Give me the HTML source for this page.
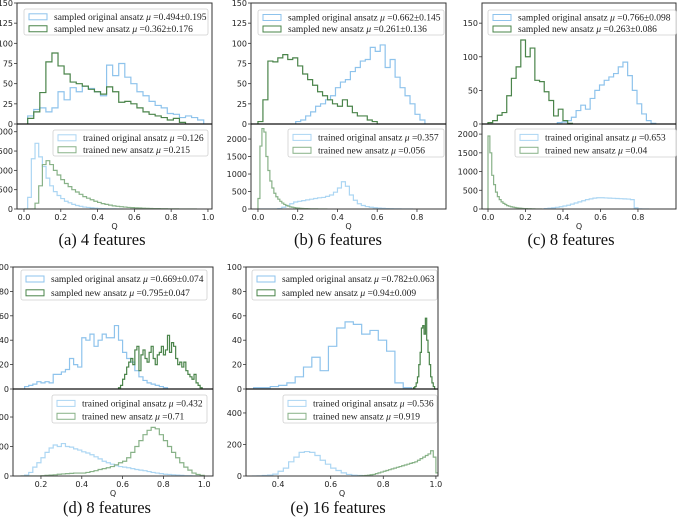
<!DOCTYPE html>
<html><head><meta charset="utf-8">
<style>
html,body{margin:0;padding:0;background:#fff;}
svg{display:block;}
</style></head>
<body>
<svg id="fig" width="677" height="520" viewBox="0 0 677 520" xmlns="http://www.w3.org/2000/svg"></svg>
<script>
// ---------- data (bin start, bin width, counts) ----------
const aTopBlueStart = 0.02, aTopBlueWidth = 0.033;
const aTopBlue = [10,18,20,15,20,40,30,45,40,47,44,40,35,73,60,75,58,50,40,35,28,23,20,13,12,8,10,8,5];
const aTopGreenStart = 0.02, aTopGreenWidth = 0.033;
const aTopGreen = [7,15,39,77,88,72,62,52,50,47,43,40,37,46,40,27,28,25,20,15,12,10,8,5,7,2];
const aBotBlueStart = 0, aBotBlueWidth = 0.02;
const aBotBlue = [0,300,1300,1700,1350,1100,800,600,450,350,270,200,160,120,90,70,50,40,30,20,15,10,8,5,3,2,0];
const aBotGreenStart = 0, aBotGreenWidth = 0.02;
const aBotGreen = [0,0,0,150,600,1150,1250,1150,1000,880,760,660,580,500,440,380,320,280,240,200,170,140,120,100,80,70,60,50,40,35,30,25,20,18,15,12,10,8,6,5,4,3,2,2,1,1,0];

const bTopBlueStart = 0.19, bTopBlueWidth = 0.025;
const bTopBlue = [3,5,10,15,22,25,30,35,45,52,55,65,70,78,80,95,90,98,70,80,58,45,35,25,12,5];
const bTopGreenStart = 0, bTopGreenWidth = 0.025;
const bTopGreen = [3,30,78,77,82,86,80,82,72,62,55,48,40,35,30,25,22,30,22,14,10,10,5,3];
const bBotBlueStart = 0, bBotBlueWidth = 0.02;
const bBotBlue = [0,0,0,0,0,10,50,100,150,200,220,240,260,280,300,320,330,360,400,480,600,780,650,400,250,150,100,70,50,35,25,18,12,8,5,3,2,1,0];
const bBotGreenStart = 0, bBotGreenWidth = 0.01;
const bBotGreen = [300,1800,2300,2200,1500,1100,800,600,450,350,280,220,170,130,100,80,60,50,40,30,25,20,15,12,10,8,6,5,4,3,2,2,1,1,0];

const cTopBlueStart = 0.37, cTopBlueWidth = 0.025;
const cTopBlue = [2,3,5,10,20,28,22,38,50,58,65,70,75,85,92,72,50,30,15,5,1];
const cTopGreenStart = 0, cTopGreenWidth = 0.025;
const cTopGreen = [2,5,13,17,42,68,85,125,100,113,65,63,48,35,12,22,5,1];
const cBotBlueStart = 0.3, cBotBlueWidth = 0.02;
const cBotBlue = [10,20,30,45,60,80,100,130,160,190,220,250,270,290,300,300,295,290,285,280,275,270,265,250,30,5,2,0];
const cBotGreenStart = 0, cBotGreenWidth = 0.01;
const cBotGreen = [1950,1500,900,650,450,330,250,190,150,120,90,75,60,50,40,32,25,20,15,12,10,8,6,5,3,2,1,1,0];

const dTopBlueStart = 0.12, dTopBlueWidth = 0.02;
const dTopBlue = [2,3,4,6,5,6,5,12,12,14,16,25,20,18,42,40,45,35,40,45,42,42,52,40,30,25,22,15,10,7,5,4,3,2,1];
const dTopGreenStart = 0.58, dTopGreenWidth = 0.01;
const dTopGreen = [1,3,8,12,18,22,25,20,32,35,15,28,32,25,22,30,35,25,20,28,30,35,28,32,44,30,38,35,25,20,22,18,22,15,12,10,8,12,5,3,1];
const dBotBlueStart = 0.1, dBotBlueWidth = 0.02;
const dBotBlue = [0,3,12,30,45,62,80,95,105,100,110,100,98,92,88,82,78,72,65,58,50,45,40,35,32,30,28,25,22,20,18,15,12,10,8,6,5,4,3,2,1,1,0,0,0];
const dBotGreenStart = 0.1, dBotGreenWidth = 0.02;
const dBotGreen = [0,0,0,0,0,1,2,3,4,6,7,8,9,10,10,10,12,15,18,22,25,28,32,38,45,50,62,80,100,120,140,155,165,160,140,120,100,80,62,45,30,20,10,5,2];

const eTopBlueStart = 0.307, eTopBlueWidth = 0.0316;
const eTopBlue = [1,1,2,3,5,10,18,26,15,35,50,55,53,45,48,40,31,5,1];
const eTopGreenStart = 0.915, eTopGreenWidth = 0.005;
const eTopGreen = [1,2,5,10,20,30,50,52,45,58,40,30,20,10,5,2,0];
const eBotBlueStart = 0.3, eBotBlueWidth = 0.02;
const eBotBlue = [0,1,3,6,12,30,50,90,120,150,155,150,130,100,75,50,35,20,10,5,3,1,0];
const eBotGreenStart = 0.7, eBotGreenWidth = 0.01;
const eBotGreen = [0,1,2,3,5,8,10,15,20,25,30,35,40,45,50,55,60,65,70,75,80,85,90,100,110,120,130,140,160,120,20];

// tick labels
const aTopTicks = [0,25,50,75,100,125,150], aBotTicks = [0,500,1000,1500,2000], aXTicks = [0,0.2,0.4,0.6,0.8,1.0];
const bTopTicks = [0,25,50,75,100,125,150], bBotTicks = [0,500,1000,1500,2000], bXTicks = [0,0.2,0.4,0.6,0.8];
const cTopTicks = [0,50,100,150], cBotTicks = [0,500,1000,1500,2000], cXTicks = [0,0.2,0.4,0.6,0.8];
const dTopTicks = [0,20,40,60,80,100], dBotTicks = [0,100,200], dXTicks = [0.2,0.4,0.6,0.8,1.0];
const eTopTicks = [0,20,40,60,80,100], eBotTicks = [0,200,400], eXTicks = [0.4,0.6,0.8,1.0];

// legend labels
const aLegTop = ["sampled original ansatz", "0.494±0.195", "sampled new ansatz", "0.362±0.176"];
const aLegBot = ["trained original ansatz", "0.126", "trained new ansatz", "0.215"];
const bLegTop = ["sampled original ansatz", "0.662±0.145", "sampled new ansatz", "0.261±0.136"];
const bLegBot = ["trained original ansatz", "0.357", "trained new ansatz", "0.056"];
const cLegTop = ["sampled original ansatz", "0.766±0.098", "sampled new ansatz", "0.263±0.086"];
const cLegBot = ["trained original ansatz", "0.653", "trained new ansatz", "0.04"];
const dLegTop = ["sampled original ansatz", "0.669±0.074", "sampled new ansatz", "0.795±0.047"];
const dLegBot = ["trained original ansatz", "0.432", "trained new ansatz", "0.71"];
const eLegTop = ["sampled original ansatz", "0.782±0.063", "sampled new ansatz", "0.94±0.009"];
const eLegBot = ["trained original ansatz", "0.536", "trained new ansatz", "0.919"];

const captions = ["(a) 4 features","(b) 6 features","(c) 8 features","(d) 8 features","(e) 16 features"];

// ---------- layout ----------
const NS = "http://www.w3.org/2000/svg";
const svg = document.getElementById('fig');
const C = {tb:"#8ec3ec", tg:"#4a844a", bb:"#acd6f3", bg:"#88b288"};

function el(tag, attrs, parent){
  const e = document.createElementNS(NS, tag);
  for (const k in attrs) e.setAttribute(k, attrs[k]);
  (parent||svg).appendChild(e);
  return e;
}
function fmtTick(v, dec){ return dec ? v.toFixed(1) : String(v); }

function histPath(vals, start, width, xs, ys){
  let d = "M" + xs(start).toFixed(2) + "," + ys(0).toFixed(2);
  for (let i=0;i<vals.length;i++){
    d += "V" + ys(vals[i]).toFixed(2) + "H" + xs(start+(i+1)*width).toFixed(2);
  }
  d += "V" + ys(0).toFixed(2);
  return d;
}

function legend(g, box, labels, colA, colB, name){
  const [x,y,w,h] = box;
  const lg = el('g', {}, g);
  
  
  el('rect', {x:x, y:y, width:w, height:h, rx:2, fill:"#fff", "fill-opacity":0.85, stroke:"#d0d0d0", "stroke-width":0.8}, lg);
  const rows = [y+h*0.3, y+h*0.76];
  for (let r=0;r<2;r++){
    const cy = rows[r];
    const p = el('rect', {x:x+5, y:cy-3, width:18, height:6, fill:"none", stroke: r===0?colA:colB, "stroke-width":1}, lg);
    
    
    const t = el('text', {x:x+30, y:cy+3, "font-family":"Liberation Serif, serif", "font-size":"9.5", fill:"#222"}, lg);
    
    
    t.appendChild(document.createTextNode(labels[r*2] + " "));
    const mu = el('tspan', {"font-style":"italic"}, t); mu.textContent = "μ";
    const rest = el('tspan', {}, t); rest.textContent = " =" + labels[r*2+1];
  }
}

function panel(cfg){
  const g = el('g', {});
  
  
  const [L,R,T,M,B] = cfg.box;
  const xs = q => L + (q - cfg.xlim[0]) / (cfg.xlim[1]-cfg.xlim[0]) * (R-L);
  const ysT = v => M - v / cfg.ytop * (M-T);
  const ysB = v => B - v / cfg.ybot * (B-M);
  const clipId = cfg.name + '-clip';
  const cp = el('clipPath', {id:clipId}, g);
  el('rect', {x:L, y:T, width:R-L, height:B-T}, cp);
  const hg = el('g', {"clip-path":"url(#"+clipId+")"}, g);
  const series = [
    [cfg.tbv, cfg.tbs, cfg.tbw, ysT, C.tb, 'top-original-histogram'],
    [cfg.tgv, cfg.tgs, cfg.tgw, ysT, C.tg, 'top-new-histogram'],
    [cfg.bbv, cfg.bbs, cfg.bbw, ysB, C.bb, 'bottom-original-histogram'],
    [cfg.bgv, cfg.bgs, cfg.bgw, ysB, C.bg, 'bottom-new-histogram']
  ];
  for (const s of series){
    const p = el('path', {d:histPath(s[0], s[1], s[2], xs, s[3]), fill:"none", stroke:s[4], "stroke-width":1.2, "stroke-linejoin":"miter"}, hg);
    
    
  }
  el('rect', {x:L, y:T, width:R-L, height:B-T, fill:"none", stroke:"#333", "stroke-width":1}, g);
  const dv = el('line', {x1:L, x2:R, y1:M, y2:M, stroke:"#111", "stroke-width":1.2}, g);
  
  
  const tf = {"font-family":"DejaVu Sans, sans-serif", "font-size":"8", fill:"#222"};
  const yt = [[cfg.ttk, ysT, 'top'], [cfg.btk, ysB, 'bottom']];
  for (const [ticks, ys, part] of yt){
    for (const v of ticks){
      const y = ys(v);
      el('line', {x1:L-3, x2:L, y1:y, y2:y, stroke:"#333", "stroke-width":0.8}, g);
      const t = el('text', Object.assign({x:L-4, y:y+3, "text-anchor":"end"}, tf), g);
      
      
      t.textContent = fmtTick(v, false);
    }
  }
  for (const v of cfg.xtk){
    const x = xs(v);
    el('line', {x1:x, x2:x, y1:B, y2:B+3, stroke:"#333", "stroke-width":0.8}, g);
    const t = el('text', Object.assign({x:x, y:B+11, "text-anchor":"middle"}, tf), g);
    
    
    t.textContent = fmtTick(v, true);
  }
  const q = el('text', Object.assign({x:(L+R)/2, y:B+20, "text-anchor":"middle"}, tf), g);
  
  
  q.textContent = "Q";
  legend(g, cfg.legT, cfg.labT, C.tb, C.tg, 'legend-sampled');
  legend(g, cfg.legB, cfg.labB, C.bb, C.bg, 'legend-trained');
  const cap = el('text', {x:cfg.cap[0], y:cfg.cap[1], "text-anchor":"middle", "font-family":"Liberation Serif, serif", "font-size":"16.5", fill:"#111"}, g);
  
  
  cap.textContent = cfg.caption;
}

panel({name:'panel-a-4-features', box:[17,212,3,124,209], xlim:[-0.038,1.022], ytop:150, ybot:2200,
  tbv:aTopBlue, tbs:aTopBlueStart, tbw:aTopBlueWidth, tgv:aTopGreen, tgs:aTopGreenStart, tgw:aTopGreenWidth,
  bbv:aBotBlue, bbs:aBotBlueStart, bbw:aBotBlueWidth, bgv:aBotGreen, bgs:aBotGreenStart, bgw:aBotGreenWidth,
  ttk:aTopTicks, btk:aBotTicks, xtk:aXTicks, legT:[24,9,184,26], legB:[53,130,155,26], labT:aLegTop, labB:aLegBot,
  cap:[102,245], caption:captions[0]});
panel({name:'panel-b-6-features', box:[251,446,3,124,209], xlim:[-0.035,0.946], ytop:150, ybot:2430,
  tbv:bTopBlue, tbs:bTopBlueStart, tbw:bTopBlueWidth, tgv:bTopGreen, tgs:bTopGreenStart, tgw:bTopGreenWidth,
  bbv:bBotBlue, bbs:bBotBlueStart, bbw:bBotBlueWidth, bgv:bBotGreen, bgs:bBotGreenStart, bgw:bBotGreenWidth,
  ttk:bTopTicks, btk:bBotTicks, xtk:bXTicks, legT:[258,10,186,25], legB:[288,129,156,28], labT:bLegTop, labB:bLegBot,
  cap:[338,245], caption:captions[1]});
panel({name:'panel-c-8-features', box:[482,676,3,124,209], xlim:[-0.032,1.003], ytop:180, ybot:2270,
  tbv:cTopBlue, tbs:cTopBlueStart, tbw:cTopBlueWidth, tgv:cTopGreen, tgs:cTopGreenStart, tgw:cTopGreenWidth,
  bbv:cBotBlue, bbs:cBotBlueStart, bbw:cBotBlueWidth, bgv:cBotGreen, bgs:cBotGreenStart, bgw:cBotGreenWidth,
  ttk:cTopTicks, btk:cBotTicks, xtk:cXTicks, legT:[488,10,188,25], legB:[515,129,161,28], labT:cLegTop, labB:cLegBot,
  cap:[571,245], caption:captions[2]});
panel({name:'panel-d-8-features', box:[13,213,267,389,476], xlim:[0.063,1.043], ytop:100, ybot:295,
  tbv:dTopBlue, tbs:dTopBlueStart, tbw:dTopBlueWidth, tgv:dTopGreen, tgs:dTopGreenStart, tgw:dTopGreenWidth,
  bbv:dBotBlue, bbs:dBotBlueStart, bbw:dBotBlueWidth, bgv:dBotGreen, bgs:dBotGreenStart, bgw:dBotGreenWidth,
  ttk:dTopTicks, btk:dBotTicks, xtk:dXTicks, legT:[21,270,186,30], legB:[52,395,155,28], labT:dLegTop, labB:dLegBot,
  cap:[107,513], caption:captions[3]});
panel({name:'panel-e-16-features', box:[246,438,267,389,476], xlim:[0.278,1.008], ytop:100, ybot:552,
  tbv:eTopBlue, tbs:eTopBlueStart, tbw:eTopBlueWidth, tgv:eTopGreen, tgs:eTopGreenStart, tgw:eTopGreenWidth,
  bbv:eBotBlue, bbs:eBotBlueStart, bbw:eBotBlueWidth, bgv:eBotGreen, bgs:eBotGreenStart, bgw:eBotGreenWidth,
  ttk:eTopTicks, btk:eBotTicks, xtk:eXTicks, legT:[252,270,185,30], legB:[283,395,154,28], labT:eLegTop, labB:eLegBot,
  cap:[338,513], caption:captions[4]});
</script>
</body></html>
